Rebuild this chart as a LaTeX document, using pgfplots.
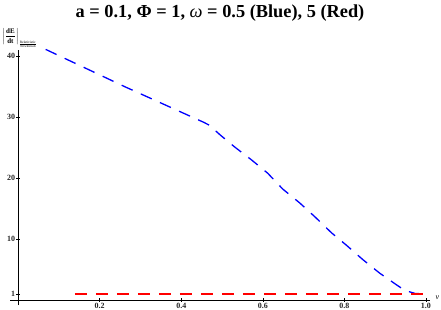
\documentclass[border=0pt]{standalone}
\usepackage{fontspec}
\setmainfont{Liberation Serif}
\usepackage{amsmath}
\usepackage{pgfplots}
\pgfplotsset{compat=1.18}
\begin{document}
\begin{tikzpicture}
\useasboundingbox (-10bp,-5bp) rectangle (431bp,305bp);
\begin{axis}[
  at={(0,0)}, anchor=south west,
  scale only axis, width=420bp, height=255bp,
  xmin=-0.02, xmax=1.01, ymin=-0.8, ymax=41.0,
  clip=false,
  axis lines=middle,
  axis line style={line width=0.9bp, -, black},
  xtick={0.2,0.4,0.6,0.8,1.0},
  xticklabels={0.2,0.4,0.6,0.8,1.0},
  ytick={1,10,20,30,40},
  yticklabels={1,10,20,30,40},
  /pgf/number format/assume math mode=true,
  ticklabel style={font=\fontsize{8}{9}\selectfont\bfseries, text=black!85, inner sep=1bp},
  major tick length=3.5bp,
  tick align=center,
  tick style={black, line width=0.5bp},
  minor tick num=0,
]
\addplot[blue, line width=1.3bp, dash pattern=on 12bp off 9bp] coordinates {
(0.0675,41.1) (0.261,35.0) (0.44,29.6) (0.455,29.15) (0.468,28.7) (0.48,28.0)
(0.495,27.1) (0.531,25.1) (0.572,23.0) (0.612,20.8) (0.649,18.2) (0.691,15.9)
(0.727,13.7) (0.769,11.0) (0.805,9.0) (0.846,6.6) (0.887,4.4) (0.928,2.5)
(0.948,1.6) (0.973,1.1) (0.998,1.0)
};
\addplot[red, line width=1.3bp, dash pattern=on 12bp off 9bp] coordinates {
(0.139,1.0) (0.998,1.0)
};
\end{axis}
\node[font=\fontsize{18.4}{20}\selectfont\bfseries] at (210bp,292bp)
  {a = 0.1, Φ = 1, {\mdseries\itshape ω} = 0.5 (Blue), 5 (Red)};
\node[anchor=west, font=\fontsize{8}{9}\selectfont\itshape] at (422bp,7bp) {ν};
\node[anchor=west, inner sep=0pt, font=\fontsize{7}{8}\selectfont] at (-8bp,267bp)
  {$\left|\dfrac{\text{\bfseries dE}}{\text{\bfseries dt}}\right|_{\frac{\text{\fontsize{3.5}{4}\selectfont Relativistic}}{\text{\fontsize{3.5}{4}\selectfont Newtonian}}}$};
\end{tikzpicture}
\end{document}
